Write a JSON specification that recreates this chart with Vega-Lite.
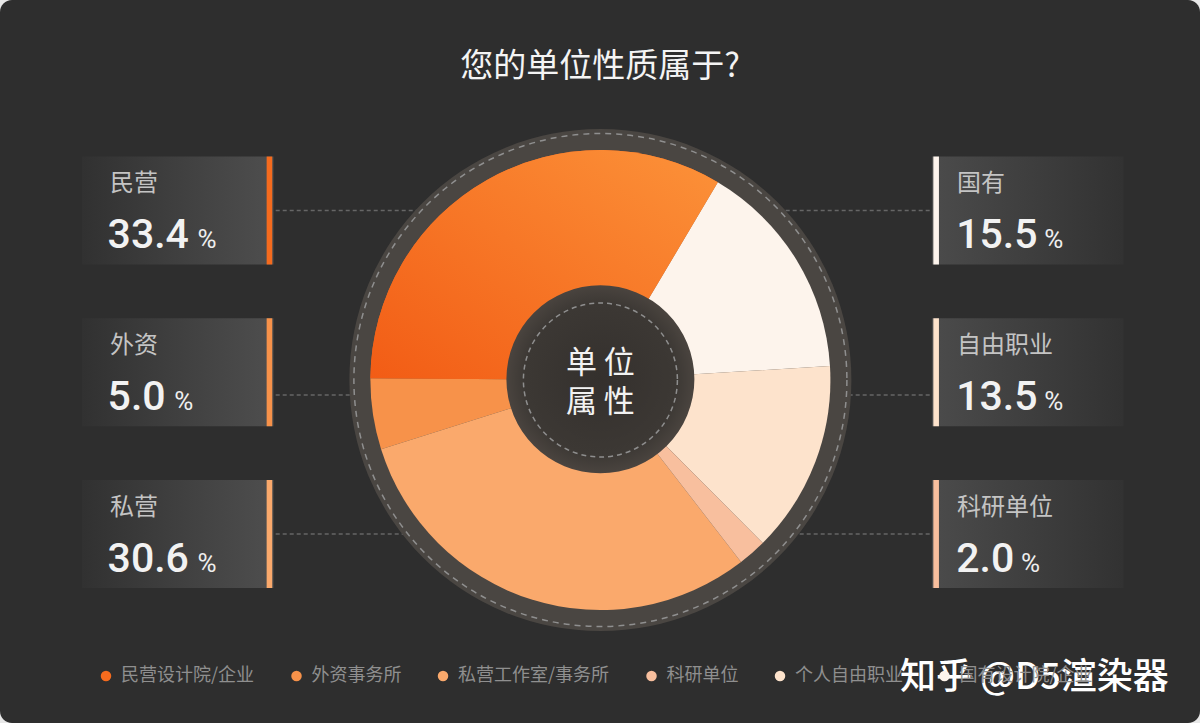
{
  "$schema": "https://vega.github.io/schema/vega-lite/v6.json",
  "width": 1200,
  "height": 723,
  "autosize": {"type": "none"},
  "padding": 0,
  "background": "#e8e8e8",
  "config": {
    "view": {"fill": "#2e2e2e", "stroke": null, "cornerRadius": 12},
    "axis": {"disable": true},
    "font": "Noto Sans CJK SC"
  },
  "title": {
    "text": "您的单位性质属于?",
    "fontSize": 33,
    "fontWeight": "normal",
    "color": "#f4f4f4",
    "font": "Noto Sans CJK SC",
    "anchor": "middle",
    "frame": "group",
    "orient": "top",
    "baseline": "middle",
    "offset": -100
  },
  "data": {
    "values": [
      {"name": "民营", "full": "民营设计院/企业", "value": 33.4, "side": "L", "slot": 1, "ord": 6},
      {"name": "外资", "full": "外资事务所", "value": 5.0, "side": "L", "slot": 2, "ord": 5},
      {"name": "私营", "full": "私营工作室/事务所", "value": 30.6, "side": "L", "slot": 3, "ord": 4},
      {"name": "国有", "full": "国有设计院/企业", "value": 15.5, "side": "R", "slot": 1, "ord": 1},
      {"name": "自由职业", "full": "个人自由职业", "value": 13.5, "side": "R", "slot": 2, "ord": 2},
      {"name": "科研单位", "full": "科研单位", "value": 2.0, "side": "R", "slot": 3, "ord": 3}
    ]
  },
  "transform": [{"calculate": "length(format(datum.value, '.1f'))", "as": "nchar"}],
  "layer": [
    {
      "transform": [{"filter": "datum.slot !== 2"}],
      "mark": {"type": "rule", "stroke": "#666666", "strokeWidth": 1.5, "strokeDash": [4, 3]},
      "encoding": {
        "x": {"field": "side", "type": "nominal", "bandPosition": 0.5, "axis": null, "scale": {"type": "band", "domain": ["L", "C", "R"], "paddingInner": 0.5494, "paddingOuter": 0.1865, "align": 0.517}},
        "x2": {"datum": "C"},
        "y": {"field": "slot", "type": "ordinal", "bandPosition": 0.5, "axis": null, "scale": {"type": "band", "domain": [1, 2, 3], "paddingInner": 0.3323, "paddingOuter": 0.9011, "align": 0.5369}}
      }
    },
    {
      "transform": [{"filter": "datum.slot === 2"}],
      "mark": {"type": "rule", "stroke": "#666666", "strokeWidth": 1.5, "strokeDash": [4, 3]},
      "encoding": {
        "x": {"field": "side", "type": "nominal", "bandPosition": 0.5, "axis": null},
        "x2": {"datum": "C"},
        "y": {"field": "slot", "type": "ordinal", "bandPosition": 0.71, "axis": null}
      }
    },
    {
      "data": {"values": [{"k": 1}]},
      "mark": {"type": "point", "shape": "circle", "filled": true, "size": 252004, "fill": "#4a4642", "opacity": 1, "strokeWidth": 0},
      "encoding": {
        "x": {"datum": "C", "type": "nominal", "bandPosition": 0.488, "axis": null},
        "y": {"datum": 2, "type": "ordinal", "bandPosition": 0.572, "axis": null}
      }
    },
    {
      "data": {"values": [{"k": 1}]},
      "mark": {"type": "point", "shape": "circle", "filled": false, "size": 243049, "stroke": "#8f8f8f", "strokeWidth": 1.5, "strokeDash": [6, 5], "opacity": 1},
      "encoding": {
        "x": {"datum": "C", "type": "nominal", "bandPosition": 0.488, "axis": null},
        "y": {"datum": 2, "type": "ordinal", "bandPosition": 0.572, "axis": null}
      }
    },
    {
      "mark": {"type": "arc", "outerRadius": 230},
      "encoding": {
        "theta": {"field": "value", "type": "quantitative", "stack": true, "scale": {"domain": [0, 100], "range": [0.5358, 6.819]}},
        "order": {"field": "ord", "type": "quantitative"},
        "color": {
          "field": "full",
          "type": "nominal",
          "scale": {
            "domain": ["民营设计院/企业", "外资事务所", "私营工作室/事务所", "科研单位", "个人自由职业", "国有设计院/企业"],
            "range": ["#f56b1e", "#f7924a", "#faa96c", "#f8bf9e", "#fde3cc", "#fdf4ec"]
          },
          "legend": {
            "orient": "none",
            "legendX": 97,
            "legendY": 667,
            "direction": "horizontal",
            "title": null,
            "symbolType": "circle",
            "symbolSize": 110,
            "symbolStrokeWidth": 0,
            "symbolOpacity": 1,
            "labelFontSize": 18,
            "labelColor": "#8f8f8f",
            "labelFont": "Noto Sans CJK SC",
            "columnPadding": 32.5,
            "labelOffset": 6
          }
        },
        "x": {"datum": "C", "type": "nominal", "bandPosition": 0.488, "axis": null},
        "y": {"datum": 2, "type": "ordinal", "bandPosition": 0.572, "axis": null}
      }
    },
    {
      "transform": [
        {"stack": "value", "groupby": [], "sort": [{"field": "ord", "order": "ascending"}], "as": ["t0", "t1"]},
        {"filter": "datum.name === '民营'"}
      ],
      "mark": {
        "type": "arc",
        "outerRadius": 230,
        "fill": {"gradient": "linear", "x1": 1, "y1": 0, "x2": 0, "y2": 1, "stops": [{"offset": 0, "color": "#fc9239"}, {"offset": 1, "color": "#f25c15"}]}
      },
      "encoding": {
        "theta": {"field": "t0", "type": "quantitative", "stack": null},
        "theta2": {"field": "t1"},
        "x": {"datum": "C", "type": "nominal", "bandPosition": 0.488, "axis": null},
        "y": {"datum": 2, "type": "ordinal", "bandPosition": 0.572, "axis": null}
      }
    },
    {
      "data": {"values": [{"k": 1}]},
      "mark": {
        "type": "point", "shape": "circle", "filled": true, "size": 35344, "opacity": 1, "strokeWidth": 0,
        "fill": {"gradient": "radial", "x1": 0.5, "y1": 0.5, "r1": 0, "x2": 0.5, "y2": 0.5, "r2": 0.5, "stops": [{"offset": 0, "color": "#34302d"}, {"offset": 0.8, "color": "#3c3834"}, {"offset": 1, "color": "#4a443f"}]}
      },
      "encoding": {
        "x": {"datum": "C", "type": "nominal", "bandPosition": 0.488, "axis": null},
        "y": {"datum": 2, "type": "ordinal", "bandPosition": 0.565, "axis": null}
      }
    },
    {
      "data": {"values": [{"k": 1}]},
      "mark": {"type": "point", "shape": "circle", "filled": false, "size": 23716, "stroke": "#8e8e8e", "strokeWidth": 1.5, "strokeDash": [5, 4], "opacity": 1},
      "encoding": {
        "x": {"datum": "C", "type": "nominal", "bandPosition": 0.488, "axis": null},
        "y": {"datum": 2, "type": "ordinal", "bandPosition": 0.572, "axis": null}
      }
    },
    {
      "data": {"values": [{"k": 1}]},
      "mark": {"type": "text", "text": ["单 位", "属 性"], "fontSize": 31, "lineHeight": 39, "dy": -16, "color": "#f2f2f2", "align": "center", "baseline": "middle", "font": "Noto Sans CJK SC"},
      "encoding": {
        "x": {"datum": "C", "type": "nominal", "bandPosition": 0.488, "axis": null},
        "y": {"datum": 2, "type": "ordinal", "bandPosition": 0.572, "axis": null}
      }
    },
    {
      "transform": [{"filter": "datum.side === 'L'"}],
      "mark": {"type": "rect", "fill": {"gradient": "linear", "x1": 0, "y1": 0, "x2": 1, "y2": 0, "stops": [{"offset": 0, "color": "#313131"}, {"offset": 1, "color": "#4e4e4e"}]}},
      "encoding": {
        "x": {"field": "side", "type": "nominal", "axis": null},
        "y": {"field": "slot", "type": "ordinal", "axis": null}
      }
    },
    {
      "transform": [{"filter": "datum.side === 'R'"}],
      "mark": {"type": "rect", "fill": {"gradient": "linear", "x1": 0, "y1": 0, "x2": 1, "y2": 0, "stops": [{"offset": 0, "color": "#4b4b4b"}, {"offset": 1, "color": "#323232"}]}},
      "encoding": {
        "x": {"field": "side", "type": "nominal", "axis": null},
        "y": {"field": "slot", "type": "ordinal", "axis": null}
      }
    },
    {
      "transform": [{"filter": "datum.side === 'L'"}],
      "mark": {"type": "tick", "orient": "vertical", "thickness": 5.6, "size": 108, "opacity": 1},
      "encoding": {
        "x": {"field": "side", "type": "nominal", "bandPosition": 0.979, "axis": null},
        "y": {"field": "slot", "type": "ordinal", "bandPosition": 0.5, "axis": null},
        "color": {"field": "full", "type": "nominal"}
      }
    },
    {
      "transform": [{"filter": "datum.side === 'R'"}],
      "mark": {"type": "tick", "orient": "vertical", "thickness": 5.6, "size": 108, "opacity": 1},
      "encoding": {
        "x": {"field": "side", "type": "nominal", "bandPosition": 0.022, "axis": null},
        "y": {"field": "slot", "type": "ordinal", "bandPosition": 0.5, "axis": null},
        "color": {"field": "full", "type": "nominal"}
      }
    },
    {
      "transform": [{"filter": "datum.side === 'L'"}],
      "mark": {"type": "text", "align": "left", "baseline": "middle", "fontSize": 24, "color": "#c4c4c4", "font": "Noto Sans CJK SC"},
      "encoding": {
        "x": {"field": "side", "type": "nominal", "bandPosition": 0.146, "axis": null},
        "y": {"field": "slot", "type": "ordinal", "bandPosition": 0.255, "axis": null},
        "text": {"field": "name"}
      }
    },
    {
      "transform": [{"filter": "datum.side === 'R'"}],
      "mark": {"type": "text", "align": "left", "baseline": "middle", "fontSize": 24, "color": "#c4c4c4", "font": "Noto Sans CJK SC"},
      "encoding": {
        "x": {"field": "side", "type": "nominal", "bandPosition": 0.1305, "axis": null},
        "y": {"field": "slot", "type": "ordinal", "bandPosition": 0.255, "axis": null},
        "text": {"field": "name"}
      }
    },
    {
      "transform": [{"filter": "datum.side === 'L'"}],
      "mark": {"type": "text", "align": "left", "baseline": "alphabetic", "fontSize": 41, "fontWeight": 500, "color": "#f2f2f2", "font": "Roboto"},
      "encoding": {
        "x": {"field": "side", "type": "nominal", "bandPosition": 0.134, "axis": null},
        "y": {"field": "slot", "type": "ordinal", "bandPosition": 0.85, "axis": null},
        "text": {"field": "value", "type": "quantitative", "format": ".1f"}
      }
    },
    {
      "transform": [{"filter": "datum.side === 'R'"}],
      "mark": {"type": "text", "align": "left", "baseline": "alphabetic", "fontSize": 41, "fontWeight": 500, "color": "#f2f2f2", "font": "Roboto"},
      "encoding": {
        "x": {"field": "side", "type": "nominal", "bandPosition": 0.127, "axis": null},
        "y": {"field": "slot", "type": "ordinal", "bandPosition": 0.85, "axis": null},
        "text": {"field": "value", "type": "quantitative", "format": ".1f"}
      }
    },
    {
      "transform": [{"filter": "datum.side === 'L' && datum.nchar === 4"}],
      "mark": {"type": "text", "align": "left", "baseline": "alphabetic", "fontSize": 26, "color": "#eeeeee", "font": "Roboto", "text": "%"},
      "encoding": {
        "x": {"field": "side", "type": "nominal", "bandPosition": 0.603, "axis": null},
        "y": {"field": "slot", "type": "ordinal", "bandPosition": 0.85, "axis": null}
      }
    },
    {
      "transform": [{"filter": "datum.side === 'L' && datum.nchar === 3"}],
      "mark": {"type": "text", "align": "left", "baseline": "alphabetic", "fontSize": 26, "color": "#eeeeee", "font": "Roboto", "text": "%"},
      "encoding": {
        "x": {"field": "side", "type": "nominal", "bandPosition": 0.482, "axis": null},
        "y": {"field": "slot", "type": "ordinal", "bandPosition": 0.85, "axis": null}
      }
    },
    {
      "transform": [{"filter": "datum.side === 'R' && datum.nchar === 4"}],
      "mark": {"type": "text", "align": "left", "baseline": "alphabetic", "fontSize": 26, "color": "#eeeeee", "font": "Roboto", "text": "%"},
      "encoding": {
        "x": {"field": "side", "type": "nominal", "bandPosition": 0.586, "axis": null},
        "y": {"field": "slot", "type": "ordinal", "bandPosition": 0.85, "axis": null}
      }
    },
    {
      "transform": [{"filter": "datum.side === 'R' && datum.nchar === 3"}],
      "mark": {"type": "text", "align": "left", "baseline": "alphabetic", "fontSize": 26, "color": "#eeeeee", "font": "Roboto", "text": "%"},
      "encoding": {
        "x": {"field": "side", "type": "nominal", "bandPosition": 0.465, "axis": null},
        "y": {"field": "slot", "type": "ordinal", "bandPosition": 0.85, "axis": null}
      }
    },
    {
      "data": {"values": [{"k": 1}]},
      "mark": {"type": "text", "text": "知乎 @D5渲染器", "fontSize": 36, "fontWeight": 500, "color": "#ffffff", "align": "left", "baseline": "middle", "font": "Noto Sans CJK SC"},
      "encoding": {
        "x": {"datum": "R", "type": "nominal", "bandPosition": -0.167, "axis": null},
        "y": {"datum": 3, "type": "ordinal", "bandPosition": 1.833, "axis": null}
      }
    }
  ]
}
